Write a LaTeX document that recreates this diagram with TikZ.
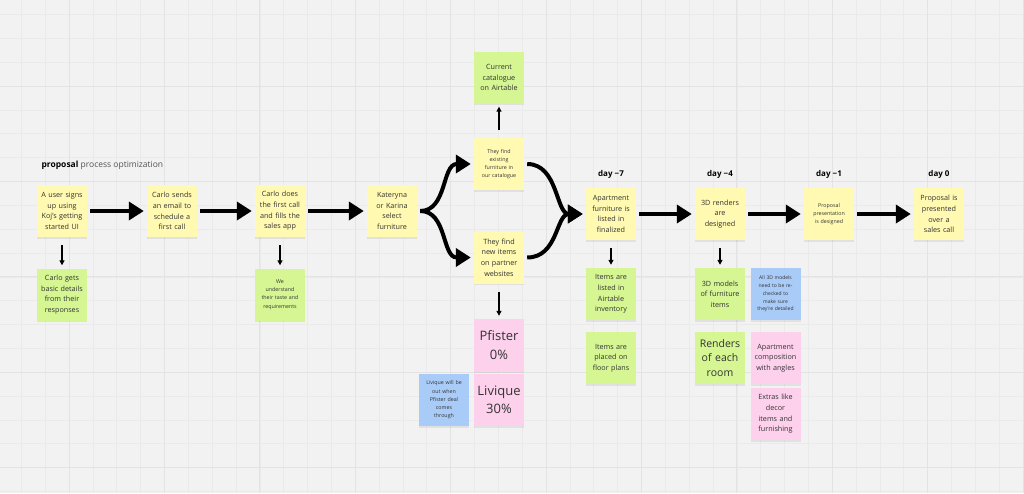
\documentclass[tikz,border=0pt]{standalone}
\usepackage{fontspec}
\setmainfont{Open Sans}
\usetikzlibrary{arrows.meta,shadows}
\definecolor{board}{HTML}{F2F2F2}
\definecolor{gridminor}{HTML}{EAEAEA}
\definecolor{gridmajor}{HTML}{E3E3E3}
\definecolor{ink}{HTML}{333333}
\definecolor{noteyellow}{HTML}{FFF9B1}
\definecolor{notegreen}{HTML}{D5F692}
\definecolor{notepink}{HTML}{FDD0EC}
\definecolor{noteblue}{HTML}{A9CBF7}
\tikzset{
	note/.style={rectangle, minimum width=50pt, minimum height=52pt, text width=48pt, inner sep=0pt, align=center, text=ink, font=\fontsize{7.2}{10.7}\selectfont, drop shadow={opacity=0.15, shadow xshift=0pt, shadow yshift=-1.5pt}},
	yellownote/.style={note, fill=noteyellow},
	greennote/.style={note, fill=notegreen},
	pinknote/.style={note, fill=notepink},
	bluenote/.style={note, fill=noteblue},
	tinytext/.style={font=\fontsize{5.3}{8.2}\selectfont},
	bigtext/.style={font=\fontsize{13}{18.5}\selectfont},
	flow/.style={line width=4pt, -{Triangle[length=15pt,width=18pt]}, shorten <=3pt, shorten >=3pt},
	hint/.style={line width=1.3pt, -{Triangle[length=5pt,width=5pt]}, shorten <=8pt, shorten >=3pt},
	daylabel/.style={font=\fontsize{8}{10}\selectfont\bfseries, text=black}
}
\begin{document}
\begin{tikzpicture}[x=1pt, y=-1pt]
		\useasboundingbox (0,0) rectangle (1024,493);
		\fill[board] (0,0) rectangle (1024,493);
		\foreach \i in {0,...,42} \draw[gridminor, line width=0.6pt] ({21.3+23.85*\i},0) -- ({21.3+23.85*\i},493);
		\foreach \j in {0,...,20} \draw[gridminor, line width=0.6pt] (0,{14.45+23.85*\j}) -- (1024,{14.45+23.85*\j});
		\foreach \i in {0,...,10} \draw[gridmajor, line width=1pt] ({69+95.4*\i},0) -- ({69+95.4*\i},493);
		\foreach \j in {0,...,4} \draw[gridmajor, line width=1pt] (0,{86+95.4*\j}) -- (1024,{86+95.4*\j});

		\node[anchor=west, text=ink!85, font=\fontsize{8.5}{10}\selectfont] (title) at (38,165) {\textbf{\color{black}proposal} process optimization};

		\node[yellownote] (signup) at (62,211) {A user signs\\up using\\Koj's getting\\started UI};
		\node[greennote] (details) at (62,294.5) {Carlo gets\\basic details\\from their\\responses};
		\node[yellownote] (email) at (172,211) {Carlo sends\\an email to\\schedule a\\first call};
		\node[yellownote] (firstcall) at (280,211) {Carlo does\\the first call\\and fills the\\sales app};
		\node[greennote, tinytext] (taste) at (280,294.5) {We\\understand\\their taste and\\requirements};
		\node[yellownote] (select) at (392,211) {Kateryna\\or Karina\\select\\furniture};
		\node[greennote] (catalogue) at (499,77.5) {Current\\catalogue\\on Airtable};
		\node[yellownote, tinytext] (existing) at (499,164) {They find\\existing\\furniture in\\our catalogue};
		\node[yellownote] (newitems) at (499,257.5) {They find\\new items\\on partner\\websites};
		\node[pinknote, bigtext] (pfister) at (499,345) {Pfister\\0\%};
		\node[pinknote, bigtext] (livique) at (499,400) {Livique\\30\%};
		\node[bluenote, tinytext] (dealnote) at (444,400) {Livique will be\\out when\\Pfister deal\\comes\\through};

		\node[yellownote] (listed) at (611,214) {Apartment\\furniture is\\listed in\\finalized};
		\node[greennote] (inventory) at (611,294) {Items are\\listed in\\Airtable\\inventory};
		\node[greennote] (floorplans) at (611,358) {Items are\\placed on\\floor plans};
		\node[yellownote] (renders) at (720,214) {3D renders\\are\\designed};
		\node[greennote] (models) at (720,294) {3D models\\of furniture\\items};
		\node[bluenote, font=\fontsize{5}{7.7}\selectfont] (recheck) at (775.5,294) {All 3D models\\need to be re-\\checked to\\make sure\\they're detailed};
		\node[greennote, font=\fontsize{10.5}{14.5}\selectfont] (rooms) at (720,358) {Renders\\of each\\room};
		\node[pinknote] (angles) at (775.5,358) {Apartment\\composition\\with angles};
		\node[pinknote] (extras) at (775.5,414) {Extras like\\decor\\items and\\furnishing};
		\node[yellownote, tinytext] (presentation) at (829,214) {Proposal\\presentation\\is designed};
		\node[yellownote] (salescall) at (939,214) {Proposal is\\presented\\over a\\sales call};

		\node[daylabel] (day7) at (611,174) {day −7};
		\node[daylabel] (day4) at (720,174) {day −4};
		\node[daylabel] (day1) at (829,174) {day −1};
		\node[daylabel] (day0) at (939,174) {day 0};

		\draw[flow] (signup) -- (email);
		\draw[flow] (email) -- (firstcall);
		\draw[flow] (firstcall) -- (select);
		\draw[flow] (select.east) .. controls +(30,0) and +(-32,0) .. (existing.west);
		\draw[flow] (select.east) .. controls +(30,0) and +(-32,0) .. (newitems.west);
		\draw[flow] (existing.east) .. controls +(34,0) and +(-30,0) .. (listed.west);
		\draw[flow] (newitems.east) .. controls +(34,0) and +(-30,0) .. (listed.west);
		\draw[flow] (listed) -- (renders);
		\draw[flow] (renders) -- (presentation);
		\draw[flow] (presentation) -- (salescall);

		\draw[hint] (signup) -- (details);
		\draw[hint] (firstcall) -- (taste);
		\draw[hint] (existing) -- (catalogue);
		\draw[hint, line width=1.8pt] (newitems) -- (pfister);
		\draw[hint] (listed) -- (inventory);
		\draw[hint] (renders) -- (models);
	\end{tikzpicture}
\end{document}
